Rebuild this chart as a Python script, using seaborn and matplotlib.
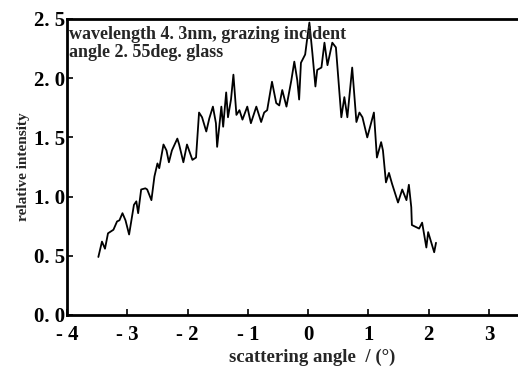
import matplotlib
matplotlib.use("Agg")
import matplotlib.pyplot as plt
import seaborn as sns
import pandas as pd

angle = [-3.48, -3.42, -3.37, -3.32, -3.23, -3.17, -3.13, -3.08, -3.03, -2.97,
         -2.89, -2.85, -2.82, -2.77, -2.70, -2.67, -2.60, -2.55, -2.50, -2.47,
         -2.40, -2.35, -2.31, -2.26, -2.17, -2.14, -2.07, -2.01, -1.92, -1.86,
         -1.81, -1.76, -1.69, -1.64, -1.58, -1.53, -1.51, -1.44, -1.41, -1.36,
         -1.33, -1.28, -1.24, -1.19, -1.14, -1.09, -1.01, -0.95, -0.86, -0.78,
         -0.73, -0.68, -0.60, -0.53, -0.48, -0.43, -0.36, -0.28, -0.23, -0.18,
         -0.15, -0.12, -0.05, -0.02, 0.02, 0.07, 0.12, 0.15, 0.22, 0.27,
         0.32, 0.40, 0.46, 0.55, 0.60, 0.65, 0.73, 0.80, 0.85, 0.90,
         0.98, 1.09, 1.14, 1.21, 1.24, 1.29, 1.34, 1.39, 1.49, 1.56,
         1.63, 1.67, 1.71, 1.72, 1.84, 1.89, 1.96, 1.99, 2.09, 2.12]
intensity = [0.49, 0.62, 0.56, 0.69, 0.72, 0.79, 0.80, 0.86, 0.80, 0.68,
             0.93, 0.96, 0.86, 1.06, 1.07, 1.06, 0.97, 1.17, 1.28, 1.24,
             1.44, 1.39, 1.29, 1.39, 1.49, 1.44, 1.29, 1.44, 1.31, 1.33,
             1.71, 1.67, 1.55, 1.66, 1.76, 1.62, 1.42, 1.76, 1.59, 1.88,
             1.67, 1.82, 2.03, 1.69, 1.73, 1.65, 1.76, 1.62, 1.76, 1.63,
             1.71, 1.73, 1.97, 1.79, 1.77, 1.90, 1.76, 1.98, 2.14, 1.98,
             1.82, 2.13, 2.20, 2.32, 2.47, 2.21, 1.93, 2.07, 2.09, 2.30,
             2.11, 2.30, 2.26, 1.67, 1.84, 1.67, 2.09, 1.63, 1.71, 1.67,
             1.50, 1.71, 1.33, 1.46, 1.39, 1.12, 1.20, 1.11, 0.95, 1.06,
             0.97, 1.10, 0.91, 0.76, 0.73, 0.78, 0.57, 0.70, 0.53, 0.61]

xticks = [-4, -3, -2, -1, 0, 1, 2, 3]
xticklabels = ["- 4", "- 3", "- 2", "- 1", "0", "1", "2", "3"]
yticks = [0.0, 0.5, 1.0, 1.5, 2.0, 2.5]
yticklabels = ["0. 0", "0. 5", "1. 0", "1. 5", "2. 0", "2. 5"]

sns.set_style("ticks")
plt.rcParams['font.family'] = ['Liberation Serif', 'DejaVu Serif']
plt.rcParams['font.weight'] = 'bold'

df = pd.DataFrame({"angle": angle, "intensity": intensity})

fig = plt.figure(figsize=(5.18, 3.72), dpi=100)
ax = fig.add_axes([67/518, 1 - 315/372, 1 - 67/518, (315 - 19)/372])
sns.lineplot(data=df, x="angle", y="intensity", color="black", linewidth=1.3, ax=ax)

ax.set_xlim(-4, 3.48)
ax.set_ylim(0, 2.5)
ax.set_xticks(xticks)
ax.set_xticklabels(xticklabels, fontsize=15, fontweight='bold')
ax.set_yticks(yticks)
ax.set_yticklabels(yticklabels, fontsize=15, fontweight='bold')
ax.tick_params(direction='in', length=4, width=1.2, colors='black')
ax.tick_params(axis='x', pad=7)
ax.tick_params(axis='y', pad=1)
for s in ['left', 'bottom', 'top']:
    ax.spines[s].set_linewidth(2)
    ax.spines[s].set_color('black')
ax.spines['right'].set_visible(False)

ax.set_xlabel("scattering angle  / (°)", fontsize=13.5, fontweight='bold')
ax.xaxis.set_label_coords((312 - 67) / 451, (315 - 349) / 296)
ax.set_ylabel("relative intensity", fontsize=11, fontweight='bold', labelpad=3)
ax.text(0.005, 0.978, "wavelength 4. 3nm, grazing incident\nangle 2. 55deg. glass",
        transform=ax.transAxes, ha='left', va='top', fontsize=13, fontweight='bold',
        linespacing=1.15)

fig.savefig("out.png", dpi=100)
